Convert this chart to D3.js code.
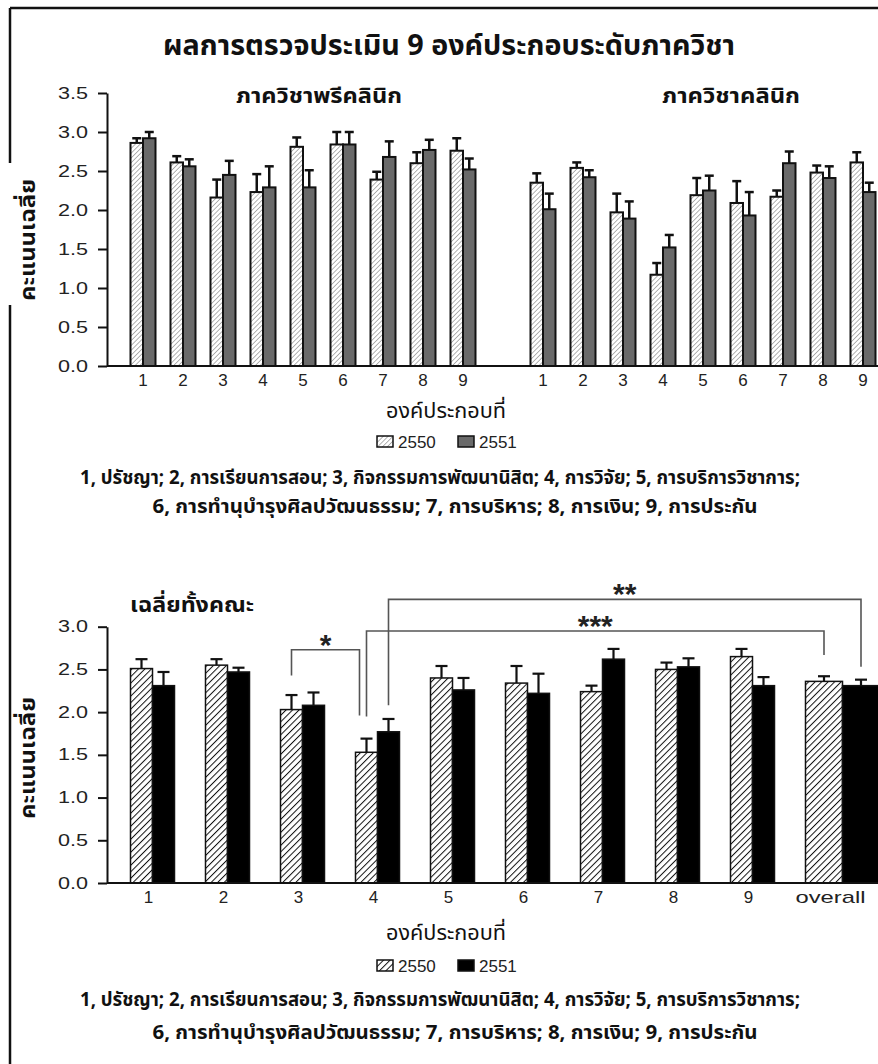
<!DOCTYPE html>
<html lang="th">
<head>
<meta charset="utf-8" />
<title>ผลการตรวจประเมิน 9 องค์ประกอบระดับภาควิชา</title>
<script src="https://d3js.org/d3.v7.min.js"></script>
<style>
  body { margin: 0; background: #fff; }
  svg { display: block; }
  .thai { font-family: "Noto Sans Thai", "Loma", "Garuda", "Tlwg Typo", "Norasi", "DejaVu Sans", sans-serif; }
  .num, .axis text { font-family: "Liberation Sans", Arial, sans-serif; }
</style>
</head>
<body>
<script>
// ---- data ----
const components = ["1", "2", "3", "4", "5", "6", "7", "8", "9"];
const years = ["2550", "2551"];

// top panel, preclinical departments
const preclinic2550 = [2.86, 2.61, 2.16, 2.23, 2.81, 2.84, 2.39, 2.60, 2.76];
const preclinicErr2550 = [0.06, 0.08, 0.23, 0.23, 0.12, 0.16, 0.10, 0.14, 0.16];
const preclinic2551 = [2.92, 2.56, 2.45, 2.29, 2.29, 2.84, 2.68, 2.77, 2.52];
const preclinicErr2551 = [0.08, 0.09, 0.18, 0.27, 0.22, 0.16, 0.20, 0.13, 0.14];

// top panel, clinical departments
const clinic2550 = [2.35, 2.54, 1.97, 1.17, 2.19, 2.09, 2.17, 2.48, 2.61];
const clinicErr2550 = [0.12, 0.07, 0.24, 0.15, 0.22, 0.28, 0.08, 0.09, 0.13];
const clinic2551 = [2.01, 2.42, 1.89, 1.52, 2.25, 1.93, 2.60, 2.41, 2.23];
const clinicErr2551 = [0.20, 0.09, 0.22, 0.16, 0.19, 0.30, 0.15, 0.15, 0.12];

// bottom panel, whole faculty
const facultyLabels = ["1", "2", "3", "4", "5", "6", "7", "8", "9", "overall"];
const faculty2550 = [2.51, 2.55, 2.03, 1.53, 2.40, 2.34, 2.24, 2.50, 2.65, 2.36];
const facultyErr2550 = [0.11, 0.07, 0.17, 0.16, 0.14, 0.20, 0.07, 0.08, 0.09, 0.06];
const faculty2551 = [2.31, 2.47, 2.08, 1.77, 2.26, 2.22, 2.62, 2.53, 2.31, 2.31];
const facultyErr2551 = [0.16, 0.05, 0.15, 0.15, 0.14, 0.23, 0.12, 0.10, 0.10, 0.07];

// significance brackets: [category, year index] at each end, leg ends in score units
const brackets = [
  { label: "*", from: ["3", 0], to: ["4", 0], fromLow: 2.43, toLow: 1.96, top: 2.73 },
  { label: "***", from: ["4", 0], to: ["overall", 0], fromLow: 1.95, toLow: 2.67, top: 2.95 },
  { label: "**", from: ["4", 1], to: ["overall", 1], fromLow: 2.08, toLow: 2.53, top: 3.32 },
];

const topTicks = [0, 0.5, 1, 1.5, 2, 2.5, 3, 3.5];
const bottomTicks = [0, 0.5, 1, 1.5, 2, 2.5, 3];

const title = "ผลการตรวจประเมิน 9 องค์ประกอบระดับภาควิชา";
const preclinicTitle = "ภาควิชาพรีคลินิก";
const clinicTitle = "ภาควิชาคลินิก";
const facultyTitle = "เฉลี่ยทั้งคณะ";
const yLabel = "คะแนนเฉลี่ย";
const xLabel = "องค์ประกอบที่";
const captionLines = [
  "1, ปรัชญา; 2, การเรียนการสอน; 3, กิจกรรมการพัฒนานิสิต; 4, การวิจัย; 5, การบริการวิชาการ;",
  "6, การทำนุบำรุงศิลปวัฒนธรรม; 7, การบริหาร; 8, การเงิน; 9, การประกัน",
];

// ---- drawing ----
const W = 878, H = 1064;
const svg = d3.select("body").append("svg").attr("width", W).attr("height", H);
const defs = svg.append("defs");

function hatch(id, gap, color, sw) {
  const p = defs.append("pattern")
    .attr("id", id)
    .attr("patternUnits", "userSpaceOnUse")
    .attr("width", gap).attr("height", gap)
    .attr("patternTransform", "rotate(45)");
  p.append("rect").attr("width", gap).attr("height", gap).attr("fill", "#fff");
  p.append("line").attr("x1", 0).attr("y1", 0).attr("x2", 0).attr("y2", gap)
    .attr("stroke", color).attr("stroke-width", sw);
}
hatch("hatchLight", 3.4, "#8a8a8a", 1.3);
hatch("hatchDark", 4.6, "#111", 2);

// frame
svg.append("line").attr("x1", 10).attr("y1", 8).attr("x2", W).attr("y2", 8)
  .attr("stroke", "#111").attr("stroke-width", 2.5);
svg.append("line").attr("x1", 10).attr("y1", 8).attr("x2", 10).attr("y2", 163)
  .attr("stroke", "#111").attr("stroke-width", 2.5);
svg.append("line").attr("x1", 10).attr("y1", 305).attr("x2", 10).attr("y2", H)
  .attr("stroke", "#111").attr("stroke-width", 2.5);

function thaiText(x, y, text, size, len, weight = "bold") {
  const t = svg.append("text").attr("class", "thai")
    .attr("x", x).attr("y", y)
    .attr("text-anchor", "middle")
    .attr("font-size", size)
    .attr("font-weight", weight)
    .attr("fill", "#111")
    .text(text);
  if (len) t.attr("textLength", len).attr("lengthAdjust", "spacingAndGlyphs");
  return t;
}

function yAxis(y, ticks, axisX) {
  const g = svg.append("g").attr("class", "axis")
    .attr("transform", `translate(${axisX},0)`)
    .call(d3.axisLeft(y).tickValues(ticks).tickFormat(d3.format(".1f")).tickSize(9).tickSizeOuter(0));
  g.select(".domain").attr("stroke", "#111").attr("stroke-width", 2);
  g.selectAll(".tick line").attr("stroke", "#111").attr("stroke-width", 2);
  // the scan is stretched sideways, so the labels are wider than the font
  g.selectAll(".tick text")
    .attr("font-size", 16).attr("fill", "#222").attr("x", -19)
    .attr("textLength", 30).attr("lengthAdjust", "spacingAndGlyphs");
}

function xLabels(x, keys, labelOf, y0, dx) {
  const g = svg.append("g").attr("class", "axis")
    .attr("transform", `translate(${dx},${y0})`)
    .call(d3.axisBottom(x).tickValues(keys).tickFormat(labelOf).tickSize(0));
  g.select(".domain").remove();
  g.selectAll(".tick text")
    .style("font-family", "'Liberation Sans', Arial, sans-serif")
    .style("font-size", "17px")
    .attr("fill", "#222").attr("dy", "1.0em");
  return g;
}

function drawBars(rows, x, y, opts) {
  const g = svg.append("g");
  rows.forEach((row) => {
    const bw = opts.barWidth(row.key);
    const cx = x(row.key) + x.bandwidth() / 2 + opts.shift(row.key);
    row.values.forEach((d, j) => {
      const left = cx + (j - 1) * bw;
      const mid = left + bw / 2;
      g.append("line")
        .attr("x1", mid).attr("x2", mid)
        .attr("y1", y(d.v)).attr("y2", y(d.v + d.e))
        .attr("stroke", "#111").attr("stroke-width", opts.errWidth);
      g.append("line")
        .attr("x1", mid - opts.cap / 2).attr("x2", mid + opts.cap / 2)
        .attr("y1", y(d.v + d.e)).attr("y2", y(d.v + d.e))
        .attr("stroke", "#111").attr("stroke-width", opts.errWidth);
      g.append("rect")
        .attr("x", left).attr("width", bw)
        .attr("y", y(d.v)).attr("height", y(0) - y(d.v))
        .attr("fill", opts.fills[j])
        .attr("stroke", "#111").attr("stroke-width", opts.strokeWidth);
    });
  });
  return g;
}

function legend(cx, cy, fills) {
  const g = svg.append("g").attr("transform", `translate(${cx},${cy})`);
  years.forEach((yr, i) => {
    const ox = i * 81;
    g.append("rect").attr("x", ox).attr("y", -6).attr("width", 16).attr("height", 11)
      .attr("fill", fills[i]).attr("stroke", "#111").attr("stroke-width", 1.5);
    g.append("text").attr("class", "num").attr("x", ox + 21).attr("y", 6)
      .attr("font-size", 17).attr("fill", "#222").text(yr);
  });
}

function yTitle(cx, cy) {
  svg.append("text").attr("class", "thai")
    .attr("transform", `translate(${cx},${cy}) rotate(-90)`)
    .attr("text-anchor", "middle").attr("font-size", 21).attr("font-weight", "bold")
    .attr("fill", "#111").attr("textLength", 122).attr("lengthAdjust", "spacingAndGlyphs")
    .text(yLabel);
}

// ---------------- top panel ----------------
const preKeys = components.map((c) => "p" + c);
const cliKeys = components.map((c) => "c" + c);
const xTop = d3.scaleBand().domain([...preKeys, "gap", ...cliKeys]).range([123, 883]);
const yTop = d3.scaleLinear().domain([0, 3.5]).range([366, 93]);

const topRows = [
  ...components.map((c, i) => ({
    key: "p" + c,
    values: [
      { v: preclinic2550[i], e: preclinicErr2550[i] },
      { v: preclinic2551[i], e: preclinicErr2551[i] },
    ],
  })),
  ...components.map((c, i) => ({
    key: "c" + c,
    values: [
      { v: clinic2550[i], e: clinicErr2550[i] },
      { v: clinic2551[i], e: clinicErr2551[i] },
    ],
  })),
];

thaiText(449, 55, title, 28, 572);
thaiText(319, 103, preclinicTitle, 21, 166);
thaiText(731, 103, clinicTitle, 21, 138);

drawBars(topRows, xTop, yTop, {
  barWidth: () => 12.5,
  shift: () => 0,
  cap: 9,
  errWidth: 2.5,
  strokeWidth: 2,
  fills: ["url(#hatchLight)", "#6a6a6a"],
});

svg.append("line").attr("x1", 107).attr("x2", W)
  .attr("y1", yTop(0)).attr("y2", yTop(0))
  .attr("stroke", "#111").attr("stroke-width", 2);
yAxis(yTop, topTicks, 107);
xLabels(xTop, [...preKeys, ...cliKeys], (k) => k.slice(1), yTop(0), 0);
yTitle(35, 240);

thaiText(446, 418, xLabel, 21, 120, "normal");
legend(377, 442, ["url(#hatchLight)", "#6a6a6a"]);
thaiText(440, 484, captionLines[0], 19, 720);
thaiText(455, 513, captionLines[1], 19, 605);

// ---------------- bottom panel ----------------
const xBot = d3.scaleBand().domain(facultyLabels).range([115, 865]);
const yBot = d3.scaleLinear().domain([0, 3]).range([883, 626.7]);
const barW = (k) => (k === "overall" ? 37 : 22);
const barShift = (k) => (k === "overall" ? 15 : 0);

const botRows = facultyLabels.map((k, i) => ({
  key: k,
  values: [
    { v: faculty2550[i], e: facultyErr2550[i] },
    { v: faculty2551[i], e: facultyErr2551[i] },
  ],
}));

thaiText(192, 612, facultyTitle, 21, 124);

// brackets
function legX(cat, j) {
  return xBot(cat) + xBot.bandwidth() / 2 + barShift(cat) + (j - 1) * barW(cat) + barW(cat) / 2;
}
const bg = svg.append("g");
brackets.forEach((b, i) => {
  const x1 = legX(b.from[0], b.from[1]);
  // the short bracket lands at the left edge of its bar so it clears the long ones
  const x2 = i === 0 ? legX(b.to[0], b.to[1]) - barW(b.to[0]) / 2 + 4 : legX(b.to[0], b.to[1]);
  bg.append("path")
    .attr("d", d3.line()([[x1, yBot(b.fromLow)], [x1, yBot(b.top)], [x2, yBot(b.top)], [x2, yBot(b.toLow)]]))
    .attr("fill", "none").attr("stroke", "#555").attr("stroke-width", 1.6);
  bg.append("text").attr("class", "num")
    .attr("x", (x1 + x2) / 2).attr("y", yBot(b.top) + 5)
    .attr("text-anchor", "middle").attr("font-size", 30).attr("font-weight", "bold").attr("fill", "#222")
    .text(b.label);
});

drawBars(botRows, xBot, yBot, {
  barWidth: barW,
  shift: barShift,
  cap: 12,
  errWidth: 2.2,
  strokeWidth: 1.5,
  fills: ["url(#hatchDark)", "#000"],
});

svg.append("line").attr("x1", 107).attr("x2", W)
  .attr("y1", yBot(0)).attr("y2", yBot(0))
  .attr("stroke", "#111").attr("stroke-width", 2);
yAxis(yBot, bottomTicks, 107);
const gxb = xLabels(xBot, facultyLabels, (k) => k, yBot(0), -4);
gxb.selectAll(".tick text").filter((k) => k === "overall")
  .attr("x", barShift("overall") - 8)
  .attr("textLength", 70).attr("lengthAdjust", "spacingAndGlyphs");
yTitle(35, 758);

thaiText(446, 940, xLabel, 21, 120, "normal");
legend(377, 966, ["url(#hatchDark)", "#000"]);
thaiText(440, 1006, captionLines[0], 19, 720);
thaiText(455, 1039, captionLines[1], 19, 605);
</script>
</body>
</html>
